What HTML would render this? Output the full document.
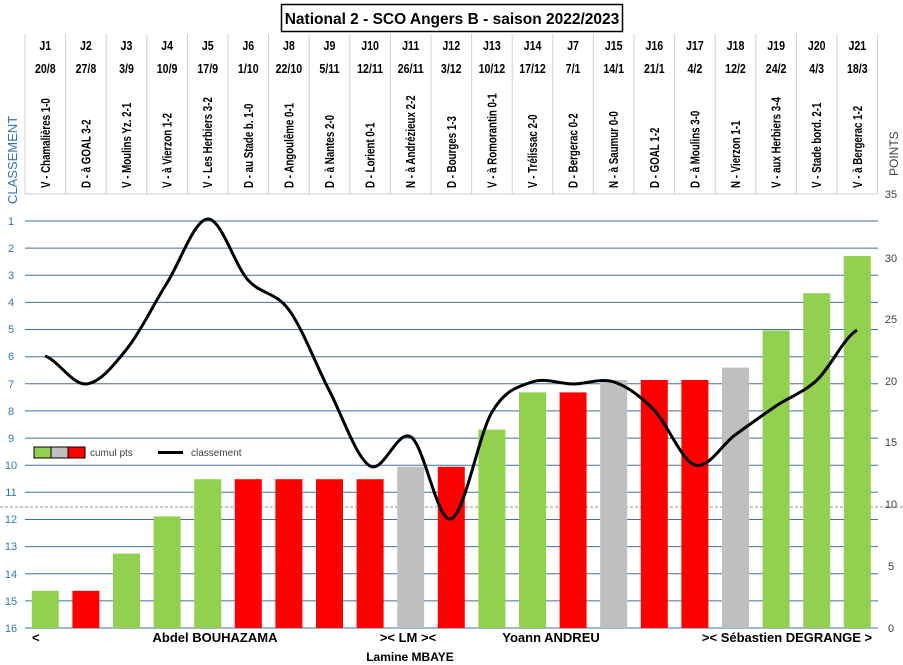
<!DOCTYPE html>
<html><head><meta charset="utf-8"><style>
html,body{margin:0;padding:0;background:#fff;}
svg{display:block;font-family:"Liberation Sans",sans-serif;}
.h{font-weight:bold;font-size:12.5px;fill:#000;text-anchor:middle;}
.r{font-weight:bold;font-size:12.5px;fill:#000;}
.yl{font-size:11px;fill:#2E75B6;text-anchor:middle;}
.yr{font-size:11px;fill:#404040;text-anchor:middle;}
.b{font-weight:bold;font-size:13px;fill:#000;}
</style></head><body>
<svg width="903" height="665" viewBox="0 0 903 665" xmlns="http://www.w3.org/2000/svg">
<rect x="281.5" y="4.5" width="341" height="27" fill="#fff" stroke="#000" stroke-width="1.5"/>
<text x="452" y="24" text-anchor="middle" font-weight="bold" font-size="15.5">National 2 - SCO Angers B - saison 2022/2023</text>

<g stroke="#d0d0d0" stroke-width="1">
<line x1="25" y1="34" x2="25" y2="194"/><line x1="65.6" y1="34" x2="65.6" y2="194"/><line x1="106.2" y1="34" x2="106.2" y2="194"/><line x1="146.8" y1="34" x2="146.8" y2="194"/><line x1="187.4" y1="34" x2="187.4" y2="194"/><line x1="228" y1="34" x2="228" y2="194"/><line x1="268.6" y1="34" x2="268.6" y2="194"/><line x1="309.2" y1="34" x2="309.2" y2="194"/><line x1="349.8" y1="34" x2="349.8" y2="194"/><line x1="390.4" y1="34" x2="390.4" y2="194"/><line x1="431" y1="34" x2="431" y2="194"/><line x1="471.6" y1="34" x2="471.6" y2="194"/><line x1="512.2" y1="34" x2="512.2" y2="194"/><line x1="552.8" y1="34" x2="552.8" y2="194"/><line x1="593.4" y1="34" x2="593.4" y2="194"/><line x1="634" y1="34" x2="634" y2="194"/><line x1="674.6" y1="34" x2="674.6" y2="194"/><line x1="715.2" y1="34" x2="715.2" y2="194"/><line x1="755.8" y1="34" x2="755.8" y2="194"/><line x1="796.4" y1="34" x2="796.4" y2="194"/><line x1="837" y1="34" x2="837" y2="194"/><line x1="877.6" y1="34" x2="877.6" y2="194"/>
<line x1="25" y1="194" x2="877.6" y2="194"/>
</g>

<g class="h">
<g transform="scale(0.85,1)">
<text x="53.3" y="50">J1</text><text x="101.1" y="50">J2</text><text x="148.8" y="50">J3</text><text x="196.6" y="50">J4</text><text x="244.4" y="50">J5</text><text x="292.1" y="50">J6</text><text x="339.9" y="50">J8</text><text x="387.6" y="50">J9</text><text x="435.4" y="50">J10</text><text x="483.2" y="50">J11</text><text x="530.9" y="50">J12</text><text x="578.7" y="50">J13</text><text x="626.5" y="50">J14</text><text x="674.2" y="50">J7</text><text x="722" y="50">J15</text><text x="769.8" y="50">J16</text><text x="817.5" y="50">J17</text><text x="865.3" y="50">J18</text><text x="913.1" y="50">J19</text><text x="960.8" y="50">J20</text><text x="1008.6" y="50">J21</text>
<text x="53.3" y="73">20/8</text><text x="101.1" y="73">27/8</text><text x="148.8" y="73">3/9</text><text x="196.6" y="73">10/9</text><text x="244.4" y="73">17/9</text><text x="292.1" y="73">1/10</text><text x="339.9" y="73">22/10</text><text x="387.6" y="73">5/11</text><text x="435.4" y="73">12/11</text><text x="483.2" y="73">26/11</text><text x="530.9" y="73">3/12</text><text x="578.7" y="73">10/12</text><text x="626.5" y="73">17/12</text><text x="674.2" y="73">7/1</text><text x="722" y="73">14/1</text><text x="769.8" y="73">21/1</text><text x="817.5" y="73">4/2</text><text x="865.3" y="73">12/2</text><text x="913.1" y="73">24/2</text><text x="960.8" y="73">4/3</text><text x="1008.6" y="73">18/3</text>
</g></g>

<g class="r">
<text transform="translate(49.8,188) rotate(-90) scale(0.78,1)">V - Chamalières 1-0</text>
<text transform="translate(90.4,188) rotate(-90) scale(0.78,1)">D - à GOAL 3-2</text>
<text transform="translate(131,188) rotate(-90) scale(0.78,1)">V - Moulins Yz. 2-1</text>
<text transform="translate(171.6,188) rotate(-90) scale(0.78,1)">V - à Vierzon 1-2</text>
<text transform="translate(212.2,188) rotate(-90) scale(0.78,1)">V - Les Herbiers 3-2</text>
<text transform="translate(252.8,188) rotate(-90) scale(0.78,1)">D - au Stade b. 1-0</text>
<text transform="translate(293.4,188) rotate(-90) scale(0.78,1)">D - Angoulême 0-1</text>
<text transform="translate(334,188) rotate(-90) scale(0.78,1)">D - à Nantes 2-0</text>
<text transform="translate(374.6,188) rotate(-90) scale(0.78,1)">D - Lorient 0-1</text>
<text transform="translate(415.2,188) rotate(-90) scale(0.78,1)">N - à Andrézieux 2-2</text>
<text transform="translate(455.8,188) rotate(-90) scale(0.78,1)">D - Bourges 1-3</text>
<text transform="translate(496.4,188) rotate(-90) scale(0.78,1)">V - à Romorantin 0-1</text>
<text transform="translate(537,188) rotate(-90) scale(0.78,1)">V - Trélissac 2-0</text>
<text transform="translate(577.6,188) rotate(-90) scale(0.78,1)">D - Bergerac 0-2</text>
<text transform="translate(618.2,188) rotate(-90) scale(0.78,1)">N - à Saumur 0-0</text>
<text transform="translate(658.8,188) rotate(-90) scale(0.78,1)">D - GOAL 1-2</text>
<text transform="translate(699.4,188) rotate(-90) scale(0.78,1)">D - à Moulins 3-0</text>
<text transform="translate(740,188) rotate(-90) scale(0.78,1)">N - Vierzon 1-1</text>
<text transform="translate(780.6,188) rotate(-90) scale(0.78,1)">V - aux Herbiers 3-4</text>
<text transform="translate(821.2,188) rotate(-90) scale(0.78,1)">V - Stade bord. 2-1</text>
<text transform="translate(861.8,188) rotate(-90) scale(0.78,1)">V - à Bergerac 1-2</text>
</g>

<text transform="translate(17,204) rotate(-90)" font-size="13" fill="#2E75B6">CLASSEMENT</text>
<text transform="translate(898,176) rotate(-90)" font-size="12" fill="#404040">POINTS</text>

<g stroke="#41719C" stroke-width="1">
<line x1="25" y1="221" x2="878" y2="221"/><line x1="25" y1="248.1" x2="878" y2="248.1"/><line x1="25" y1="275.3" x2="878" y2="275.3"/><line x1="25" y1="302.4" x2="878" y2="302.4"/><line x1="25" y1="329.5" x2="878" y2="329.5"/><line x1="25" y1="356.7" x2="878" y2="356.7"/><line x1="25" y1="383.8" x2="878" y2="383.8"/><line x1="25" y1="410.9" x2="878" y2="410.9"/><line x1="25" y1="438.1" x2="878" y2="438.1"/><line x1="25" y1="465.2" x2="878" y2="465.2"/><line x1="25" y1="492.3" x2="878" y2="492.3"/><line x1="25" y1="519.5" x2="878" y2="519.5"/><line x1="25" y1="546.6" x2="878" y2="546.6"/><line x1="25" y1="573.7" x2="878" y2="573.7"/><line x1="25" y1="600.9" x2="878" y2="600.9"/><line x1="25" y1="628" x2="878" y2="628"/>
</g>
<line x1="0" y1="507" x2="903" y2="507" stroke="#909090" stroke-width="1" stroke-dasharray="3,2"/>

<g class="yl">
<text x="11" y="225">1</text><text x="11" y="252">2</text><text x="11" y="279">3</text><text x="11" y="306">4</text><text x="11" y="333">5</text><text x="11" y="360">6</text><text x="11" y="388">7</text><text x="11" y="415">8</text><text x="11" y="442">9</text><text x="11" y="469">10</text><text x="11" y="496">11</text><text x="11" y="523">12</text><text x="11" y="550">13</text><text x="11" y="578">14</text><text x="11" y="605">15</text><text x="11" y="632">16</text>
</g>
<g class="yr">
<text x="891" y="198">35</text><text x="891" y="262">30</text><text x="891" y="323">25</text><text x="891" y="385">20</text><text x="891" y="446">15</text><text x="891" y="508">10</text><text x="891" y="570">5</text><text x="891" y="632">0</text>
</g>

<rect x="31.8" y="590.8" width="27" height="37.2" fill="#92D050"/>
<rect x="72.4" y="590.8" width="27" height="37.2" fill="#FF0000"/>
<rect x="113" y="553.6" width="27" height="74.4" fill="#92D050"/>
<rect x="153.6" y="516.4" width="27" height="111.6" fill="#92D050"/>
<rect x="194.2" y="479.2" width="27" height="148.8" fill="#92D050"/>
<rect x="234.8" y="479.2" width="27" height="148.8" fill="#FF0000"/>
<rect x="275.4" y="479.2" width="27" height="148.8" fill="#FF0000"/>
<rect x="316" y="479.2" width="27" height="148.8" fill="#FF0000"/>
<rect x="356.6" y="479.2" width="27" height="148.8" fill="#FF0000"/>
<rect x="397.2" y="466.8" width="27" height="161.2" fill="#BFBFBF"/>
<rect x="437.8" y="466.8" width="27" height="161.2" fill="#FF0000"/>
<rect x="478.4" y="429.6" width="27" height="198.4" fill="#92D050"/>
<rect x="519" y="392.4" width="27" height="235.6" fill="#92D050"/>
<rect x="559.6" y="392.4" width="27" height="235.6" fill="#FF0000"/>
<rect x="600.2" y="380" width="27" height="248" fill="#BFBFBF"/>
<rect x="640.8" y="380" width="27" height="248" fill="#FF0000"/>
<rect x="681.4" y="380" width="27" height="248" fill="#FF0000"/>
<rect x="722" y="367.6" width="27" height="260.4" fill="#BFBFBF"/>
<rect x="762.6" y="330.4" width="27" height="297.6" fill="#92D050"/>
<rect x="803.2" y="293.2" width="27" height="334.8" fill="#92D050"/>
<rect x="843.8" y="256" width="27" height="372" fill="#92D050"/>

<path fill="none" stroke="#000" stroke-width="3" stroke-linejoin="round" d="M45,356 C58.5,360.7 72.5,385 86,384 C99.5,383 112.5,366.8 126,350 C139.5,333.2 153.5,304.5 167,283 C180.5,261.5 194.5,219 208,219 C221.5,219 234.5,265.2 248,280 C261.5,294.8 275.5,291.7 289,310 C302.5,328.3 315.5,364 329,390 C342.5,416 356.5,458.2 370,466 C383.5,473.8 397.5,428.2 411,437 C424.5,445.8 437.5,523.2 451,519 C464.5,514.8 478.5,434.8 492,412 C505.5,389.2 518.5,386.7 532,382 C545.5,377.3 559.5,384 573,384 C586.5,384 600.5,377.7 614,382 C627.5,386.3 640.5,396.2 654,410 C667.5,423.8 681.5,460.8 695,465 C708.5,469.2 721.5,444.8 735,435 C748.5,425.2 762.5,415.2 776,406 C789.5,396.8 803.5,392.7 817,380 C830.5,367.3 843.5,338.3 857,330"/>

<rect x="34" y="447" width="17" height="11" fill="#92D050" stroke="#000" stroke-width="1"/>
<rect x="51" y="447" width="17" height="11" fill="#BFBFBF" stroke="#000" stroke-width="1"/>
<rect x="68" y="447" width="17" height="11" fill="#FF0000" stroke="#000" stroke-width="1"/>
<text x="90" y="456" font-size="10" fill="#404040">cumul pts</text>
<line x1="158" y1="452.5" x2="183" y2="452.5" stroke="#000" stroke-width="3"/>
<text x="191" y="456" font-size="10" fill="#404040">classement</text>

<g class="b">
<text x="32" y="642">&lt;</text>
<text x="215" y="642" text-anchor="middle">Abdel BOUHAZAMA</text>
<text x="408" y="642" text-anchor="middle">&gt;&lt; LM &gt;&lt;</text>
<text x="551" y="642" text-anchor="middle">Yoann ANDREU</text>
<text x="787" y="642" text-anchor="middle">&gt;&lt; Sébastien DEGRANGE &gt;</text>
<text x="410" y="661" text-anchor="middle" font-size="12">Lamine MBAYE</text>
</g>
</svg>
</body></html>
